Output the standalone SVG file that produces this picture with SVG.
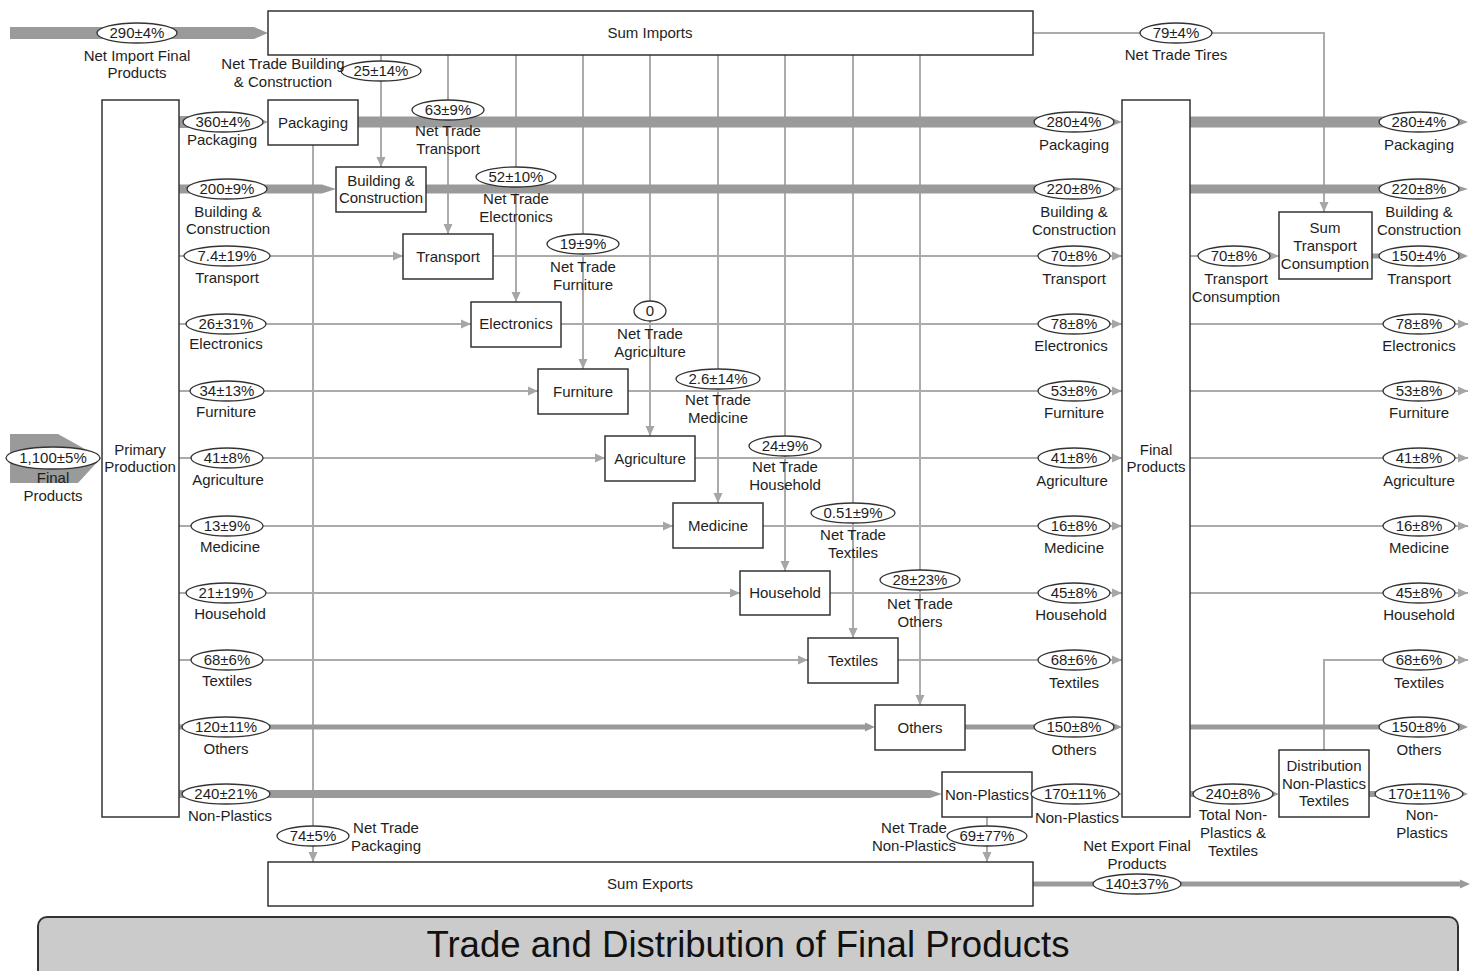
<svg xmlns="http://www.w3.org/2000/svg" width="1483" height="971" viewBox="0 0 1483 971">
  <defs>
    <style>
      .box { fill: #fff; stroke: #333; stroke-width: 1.5; }
      .thin { fill: none; stroke: #ababab; stroke-width: 2; }
      .band { fill: #9a9a9a; stroke: none; }
      .val { fill: #fff; stroke: #333; stroke-width: 1.3; }
      text { font-family: "Liberation Sans", Arial, sans-serif; font-size: 15px; fill: #1e1e1e; text-anchor: middle; }
      .title { font-size: 36.6px; fill: #111; }
    </style>
    <marker id="ah" markerUnits="userSpaceOnUse" markerWidth="10" markerHeight="10" viewBox="0 0 10 10" refX="10" refY="5" orient="auto">
      <path d="M0,0.5 L10,5 L0,9.5 Z" fill="#a6a6a6"/>
    </marker>
  </defs>

  <rect width="1483" height="971" fill="#fff"/>

  <!-- flows -->
  <g id="connectors">
    <!-- thin flows -->
    <path class="thin" d="M1033,33 H1324 V212" marker-end="url(#ah)"/>
    <path class="thin" d="M381,55 V167" marker-end="url(#ah)"/>
    <path class="thin" d="M448,55 V234" marker-end="url(#ah)"/>
    <path class="thin" d="M516,55 V302" marker-end="url(#ah)"/>
    <path class="thin" d="M583,55 V369" marker-end="url(#ah)"/>
    <path class="thin" d="M650,55 V436" marker-end="url(#ah)"/>
    <path class="thin" d="M718,55 V503" marker-end="url(#ah)"/>
    <path class="thin" d="M785,55 V571" marker-end="url(#ah)"/>
    <path class="thin" d="M853,55 V638" marker-end="url(#ah)"/>
    <path class="thin" d="M920,55 V705" marker-end="url(#ah)"/>
    <path class="thin" d="M313,145 V862" marker-end="url(#ah)"/>
    <path class="thin" d="M987,817 V862" marker-end="url(#ah)"/>

    <path class="thin" d="M179,256 H403" marker-end="url(#ah)"/>
    <path class="thin" d="M179,324 H471" marker-end="url(#ah)"/>
    <path class="thin" d="M179,391 H538" marker-end="url(#ah)"/>
    <path class="thin" d="M179,458 H605" marker-end="url(#ah)"/>
    <path class="thin" d="M179,526 H673" marker-end="url(#ah)"/>
    <path class="thin" d="M179,593 H740" marker-end="url(#ah)"/>
    <path class="thin" d="M179,660 H808" marker-end="url(#ah)"/>

    <path class="thin" d="M493,256 H1122" marker-end="url(#ah)"/>
    <path class="thin" d="M561,324 H1122" marker-end="url(#ah)"/>
    <path class="thin" d="M628,391 H1122" marker-end="url(#ah)"/>
    <path class="thin" d="M695,458 H1122" marker-end="url(#ah)"/>
    <path class="thin" d="M763,526 H1122" marker-end="url(#ah)"/>
    <path class="thin" d="M830,593 H1122" marker-end="url(#ah)"/>
    <path class="thin" d="M898,660 H1122" marker-end="url(#ah)"/>

    <path class="thin" d="M1190,256 H1279" marker-end="url(#ah)"/>
    <path class="thin" d="M1190,324 H1468" marker-end="url(#ah)"/>
    <path class="thin" d="M1190,391 H1468" marker-end="url(#ah)"/>
    <path class="thin" d="M1190,458 H1468" marker-end="url(#ah)"/>
    <path class="thin" d="M1190,526 H1468" marker-end="url(#ah)"/>
    <path class="thin" d="M1190,593 H1468" marker-end="url(#ah)"/>
    <path class="thin" d="M1324,750 V660 H1468" marker-end="url(#ah)"/>

    <!-- wide flows -->
    <path class="band" d="M10,434 H58 L101,458 L78,483 H10 Z"/>
    <path class="band" d="M10,27 H254 L268,33 L254,39 H10 Z"/>
    <path class="band" d="M179,116 H254 L268,122 L254,128 H179 Z"/>
    <path class="band" d="M179,184.5 H322 L336,189 L322,193.5 H179 Z"/>
    <path class="band" d="M179,724.5 H865 V722.5 L875,727 L865,731.5 V729.5 H179 Z"/>
    <path class="band" d="M179,790 H930 L942,794 L930,798 H179 Z"/>
    <path class="band" d="M358,116.5 H1108 L1122,122 L1108,127.5 H358 Z"/>
    <path class="band" d="M426,184.5 H1108 L1122,189 L1108,193.5 H426 Z"/>
    <path class="band" d="M965,724.5 H1112 V722.5 L1122,727 L1112,731.5 V729.5 H965 Z"/>
    <path class="band" d="M1032,791 H1112 V789.5 L1122,794 L1112,798.5 V797 H1032 Z"/>
    <path class="band" d="M1190,116.5 H1454 L1468,122 L1454,127.5 H1190 Z"/>
    <path class="band" d="M1190,184.5 H1454 L1468,189 L1454,193.5 H1190 Z"/>
    <path class="band" d="M1372,253.5 H1458 V251.5 L1468,256 L1458,260.5 V258.5 H1372 Z"/>
    <path class="band" d="M1190,724.5 H1458 V722.5 L1468,727 L1458,731.5 V729.5 H1190 Z"/>
    <path class="band" d="M1190,791 H1269 V789.5 L1279,794 L1269,798.5 V797 H1190 Z"/>
    <path class="band" d="M1369,791 H1458 V789.5 L1468,794 L1458,798.5 V797 H1369 Z"/>
    <path class="band" d="M1033,881.5 H1460 V879.5 L1470,884 L1460,888.5 V886.5 H1033 Z"/>
  </g>

  <!-- processes -->
  <g id="sum-imports"><rect class="box" x="268" y="11" width="765" height="44"/><text x="650" y="38">Sum Imports</text></g>
  <g id="sum-exports"><rect class="box" x="268" y="862" width="765" height="44"/><text x="650" y="889">Sum Exports</text></g>
  <g id="primary-production"><rect class="box" x="102" y="100" width="77" height="717"/><text x="140" y="455">Primary</text><text x="140" y="472">Production</text></g>
  <g id="final-products"><rect class="box" x="1122" y="100" width="68" height="717"/><text x="1156" y="455">Final</text><text x="1156" y="472">Products</text></g>
  <g id="packaging"><rect class="box" x="268" y="100" width="90" height="45"/><text x="313" y="128">Packaging</text></g>
  <g id="building"><rect class="box" x="336" y="167" width="90" height="45"/><text x="381" y="186">Building &amp;</text><text x="381" y="203">Construction</text></g>
  <g id="transport"><rect class="box" x="403" y="234" width="90" height="45"/><text x="448" y="262">Transport</text></g>
  <g id="electronics"><rect class="box" x="471" y="302" width="90" height="45"/><text x="516" y="329">Electronics</text></g>
  <g id="furniture"><rect class="box" x="538" y="369" width="90" height="45"/><text x="583" y="397">Furniture</text></g>
  <g id="agriculture"><rect class="box" x="605" y="436" width="90" height="45"/><text x="650" y="464">Agriculture</text></g>
  <g id="medicine"><rect class="box" x="673" y="503" width="90" height="45"/><text x="718" y="531">Medicine</text></g>
  <g id="household"><rect class="box" x="740" y="571" width="90" height="44"/><text x="785" y="598">Household</text></g>
  <g id="textiles"><rect class="box" x="808" y="638" width="90" height="45"/><text x="853" y="666">Textiles</text></g>
  <g id="others"><rect class="box" x="875" y="705" width="90" height="45"/><text x="920" y="733">Others</text></g>
  <g id="non-plastics"><rect class="box" x="942" y="772" width="90" height="45"/><text x="987" y="800">Non-Plastics</text></g>
  <g id="sum-transport"><rect class="box" x="1279" y="212" width="93" height="67"/><text x="1325" y="233">Sum</text><text x="1325" y="251">Transport</text><text x="1325" y="269">Consumption</text></g>
  <g id="distribution"><rect class="box" x="1279" y="750" width="90" height="67"/><text x="1324" y="771">Distribution</text><text x="1324" y="789">Non-Plastics</text><text x="1324" y="806">Textiles</text></g>

  <!-- flow values and names -->
  <g id="flow-labels">
    <ellipse class="val" cx="137" cy="33" rx="40" ry="10"/><text x="137" y="38">290±4%</text>
    <text x="137" y="61">Net Import Final</text><text x="137" y="78">Products</text>
    <ellipse class="val" cx="53" cy="458" rx="47" ry="11"/><text x="53" y="463">1,100±5%</text>
    <text x="53" y="483">Final</text><text x="53" y="501">Products</text>

    <ellipse class="val" cx="381" cy="71" rx="40" ry="10"/><text x="381" y="76">25±14%</text>
    <text x="283" y="69">Net Trade Building</text><text x="283" y="87">&amp; Construction</text>
    <ellipse class="val" cx="448" cy="110" rx="36" ry="10"/><text x="448" y="115">63±9%</text>
    <text x="448" y="136">Net Trade</text><text x="448" y="154">Transport</text>
    <ellipse class="val" cx="516" cy="177" rx="40" ry="10"/><text x="516" y="182">52±10%</text>
    <text x="516" y="204">Net Trade</text><text x="516" y="222">Electronics</text>
    <ellipse class="val" cx="583" cy="244" rx="36" ry="10"/><text x="583" y="249">19±9%</text>
    <text x="583" y="272">Net Trade</text><text x="583" y="290">Furniture</text>
    <ellipse class="val" cx="650" cy="311" rx="16" ry="10"/><text x="650" y="316">0</text>
    <text x="650" y="339">Net Trade</text><text x="650" y="357">Agriculture</text>
    <ellipse class="val" cx="718" cy="379" rx="42" ry="10"/><text x="718" y="384">2.6±14%</text>
    <text x="718" y="405">Net Trade</text><text x="718" y="423">Medicine</text>
    <ellipse class="val" cx="785" cy="446" rx="36" ry="10"/><text x="785" y="451">24±9%</text>
    <text x="785" y="472">Net Trade</text><text x="785" y="490">Household</text>
    <ellipse class="val" cx="853" cy="513" rx="42" ry="10"/><text x="853" y="518">0.51±9%</text>
    <text x="853" y="540">Net Trade</text><text x="853" y="558">Textiles</text>
    <ellipse class="val" cx="920" cy="580" rx="40" ry="10"/><text x="920" y="585">28±23%</text>
    <text x="920" y="609">Net Trade</text><text x="920" y="627">Others</text>
    <ellipse class="val" cx="313" cy="836" rx="36" ry="10"/><text x="313" y="841">74±5%</text>
    <text x="386" y="833">Net Trade</text><text x="386" y="851">Packaging</text>
    <ellipse class="val" cx="987" cy="836" rx="40" ry="10"/><text x="987" y="841">69±77%</text>
    <text x="914" y="833">Net Trade</text><text x="914" y="851">Non-Plastics</text>
    <ellipse class="val" cx="1176" cy="33" rx="36" ry="10"/><text x="1176" y="38">79±4%</text>
    <text x="1176" y="60">Net Trade Tires</text>
    <ellipse class="val" cx="1137" cy="884" rx="44" ry="10"/><text x="1137" y="889">140±37%</text>
    <text x="1137" y="851">Net Export Final</text><text x="1137" y="869">Products</text>

    <!-- primary production outputs -->
    <ellipse class="val" cx="223" cy="122" rx="40" ry="10"/><text x="223" y="127">360±4%</text><text x="222" y="145">Packaging</text>
    <ellipse class="val" cx="227" cy="189" rx="40" ry="10"/><text x="227" y="194">200±9%</text><text x="228" y="217">Building &amp;</text><text x="228" y="234">Construction</text>
    <ellipse class="val" cx="227" cy="256" rx="43" ry="10"/><text x="227" y="261">7.4±19%</text><text x="227" y="283">Transport</text>
    <ellipse class="val" cx="226" cy="324" rx="40" ry="10"/><text x="226" y="329">26±31%</text><text x="226" y="349">Electronics</text>
    <ellipse class="val" cx="227" cy="391" rx="37" ry="10"/><text x="227" y="396">34±13%</text><text x="226" y="417">Furniture</text>
    <ellipse class="val" cx="227" cy="458" rx="36" ry="10"/><text x="227" y="463">41±8%</text><text x="228" y="485">Agriculture</text>
    <ellipse class="val" cx="227" cy="526" rx="36" ry="10"/><text x="227" y="531">13±9%</text><text x="230" y="552">Medicine</text>
    <ellipse class="val" cx="226" cy="593" rx="40" ry="10"/><text x="226" y="598">21±19%</text><text x="230" y="619">Household</text>
    <ellipse class="val" cx="227" cy="660" rx="36" ry="10"/><text x="227" y="665">68±6%</text><text x="227" y="686">Textiles</text>
    <ellipse class="val" cx="226" cy="727" rx="44" ry="10"/><text x="226" y="732">120±11%</text><text x="226" y="754">Others</text>
    <ellipse class="val" cx="226" cy="794" rx="44" ry="10"/><text x="226" y="799">240±21%</text><text x="230" y="821">Non-Plastics</text>

    <!-- final products inputs -->
    <ellipse class="val" cx="1074" cy="122" rx="40" ry="10"/><text x="1074" y="127">280±4%</text><text x="1074" y="150">Packaging</text>
    <ellipse class="val" cx="1074" cy="189" rx="40" ry="10"/><text x="1074" y="194">220±8%</text><text x="1074" y="217">Building &amp;</text><text x="1074" y="235">Construction</text>
    <ellipse class="val" cx="1074" cy="256" rx="36" ry="10"/><text x="1074" y="261">70±8%</text><text x="1074" y="284">Transport</text>
    <ellipse class="val" cx="1074" cy="324" rx="36" ry="10"/><text x="1074" y="329">78±8%</text><text x="1071" y="351">Electronics</text>
    <ellipse class="val" cx="1074" cy="391" rx="36" ry="10"/><text x="1074" y="396">53±8%</text><text x="1074" y="418">Furniture</text>
    <ellipse class="val" cx="1074" cy="458" rx="36" ry="10"/><text x="1074" y="463">41±8%</text><text x="1072" y="486">Agriculture</text>
    <ellipse class="val" cx="1074" cy="526" rx="36" ry="10"/><text x="1074" y="531">16±8%</text><text x="1074" y="553">Medicine</text>
    <ellipse class="val" cx="1074" cy="593" rx="36" ry="10"/><text x="1074" y="598">45±8%</text><text x="1071" y="620">Household</text>
    <ellipse class="val" cx="1074" cy="660" rx="36" ry="10"/><text x="1074" y="665">68±6%</text><text x="1074" y="688">Textiles</text>
    <ellipse class="val" cx="1074" cy="727" rx="40" ry="10"/><text x="1074" y="732">150±8%</text><text x="1074" y="755">Others</text>
    <ellipse class="val" cx="1075" cy="794" rx="44" ry="10"/><text x="1075" y="799">170±11%</text><text x="1077" y="823">Non-Plastics</text>

    <!-- distribution -->
    <ellipse class="val" cx="1234" cy="256" rx="36" ry="10"/><text x="1234" y="261">70±8%</text><text x="1236" y="284">Transport</text><text x="1236" y="302">Consumption</text>
    <ellipse class="val" cx="1233" cy="794" rx="40" ry="10"/><text x="1233" y="799">240±8%</text><text x="1233" y="820">Total Non-</text><text x="1233" y="838">Plastics &amp;</text><text x="1233" y="856">Textiles</text>

    <ellipse class="val" cx="1419" cy="122" rx="40" ry="10"/><text x="1419" y="127">280±4%</text><text x="1419" y="150">Packaging</text>
    <ellipse class="val" cx="1419" cy="189" rx="40" ry="10"/><text x="1419" y="194">220±8%</text><text x="1419" y="217">Building &amp;</text><text x="1419" y="235">Construction</text>
    <ellipse class="val" cx="1419" cy="256" rx="40" ry="10"/><text x="1419" y="261">150±4%</text><text x="1419" y="284">Transport</text>
    <ellipse class="val" cx="1419" cy="324" rx="36" ry="10"/><text x="1419" y="329">78±8%</text><text x="1419" y="351">Electronics</text>
    <ellipse class="val" cx="1419" cy="391" rx="36" ry="10"/><text x="1419" y="396">53±8%</text><text x="1419" y="418">Furniture</text>
    <ellipse class="val" cx="1419" cy="458" rx="36" ry="10"/><text x="1419" y="463">41±8%</text><text x="1419" y="486">Agriculture</text>
    <ellipse class="val" cx="1419" cy="526" rx="36" ry="10"/><text x="1419" y="531">16±8%</text><text x="1419" y="553">Medicine</text>
    <ellipse class="val" cx="1419" cy="593" rx="36" ry="10"/><text x="1419" y="598">45±8%</text><text x="1419" y="620">Household</text>
    <ellipse class="val" cx="1419" cy="660" rx="36" ry="10"/><text x="1419" y="665">68±6%</text><text x="1419" y="688">Textiles</text>
    <ellipse class="val" cx="1419" cy="727" rx="40" ry="10"/><text x="1419" y="732">150±8%</text><text x="1419" y="755">Others</text>
    <ellipse class="val" cx="1419" cy="794" rx="44" ry="10"/><text x="1419" y="799">170±11%</text><text x="1422" y="820">Non-</text><text x="1422" y="838">Plastics</text>
  </g>

  <!-- caption bar -->
  <g id="caption">
    <rect x="38" y="917" width="1420" height="70" rx="9" fill="#cbcbcb" stroke="#333" stroke-width="2"/>
    <text class="title" x="748" y="957">Trade and Distribution of Final Products</text>
  </g>
</svg>
